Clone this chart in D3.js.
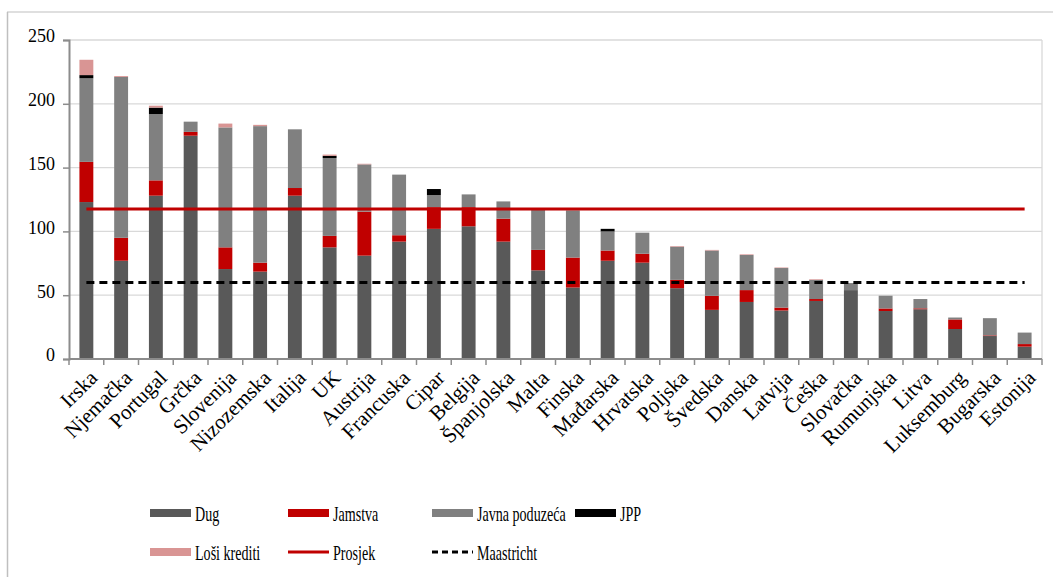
<!DOCTYPE html>
<html>
<head>
<meta charset="utf-8">
<script src="https://cdn.jsdelivr.net/npm/d3@7"></script>
<style>
  body { margin: 0; background: #fff; }
  svg { display: block; }
  text { font-family: "Liberation Serif", "DejaVu Serif", serif; fill: #000; }
</style>
</head>
<body>
<svg id="chart" width="1053" height="577"></svg>
<script>
// zemlje, poredane kao na slici
var countries = ["Irska", "Njemačka", "Portugal", "Grčka", "Slovenija", "Nizozemska", "Italija", "UK",
  "Austrija", "Francuska", "Cipar", "Belgija", "Španjolska", "Malta", "Finska", "Mađarska", "Hrvatska",
  "Poljska", "Švedska", "Danska", "Latvija", "Češka", "Slovačka", "Rumunjska", "Litva", "Luksemburg",
  "Bugarska", "Estonija"];

var dug     = [123, 77, 128, 175, 70.5, 68.5, 128, 87.5, 81, 92, 102, 104, 92, 69.5, 56, 77, 75.5, 55.5, 38.5, 44.7, 38, 45.5, 54, 37.6, 39, 23.5, 18, 9.7];
var jamstva = [31.5, 18, 12, 3, 17, 7, 6, 9, 34.5, 5, 17, 15, 18, 16, 23.5, 8, 7, 6.5, 11, 9.3, 2.3, 1.5, 0, 2, 0.7, 7.5, 0.5, 2];
var javna   = [65.5, 126, 52, 8, 94, 107, 46, 61, 37, 47.5, 9.5, 10, 13.5, 32.5, 37, 15, 16.5, 26, 35.5, 27.5, 31, 15, 5.5, 10, 7.3, 1.5, 13.5, 9];
var jpp     = [2.5, 0, 5, 0, 0, 0, 0, 1.7, 0, 0, 4.7, 0, 0, 0, 0, 2, 0, 0, 0, 0, 0, 0, 0, 0, 0, 0, 0, 0];
var losi    = [12, 0.7, 1.5, 0, 3, 1, 0, 1, 0.5, 0, 0, 0, 0, 0, 0, 0, 0, 0.5, 0.5, 0.5, 0.4, 0.5, 0, 0, 0, 0, 0, 0];

var prosjek = 117.5;
var maastricht = 60;
var yTicks = [0, 50, 100, 150, 200, 250];

var seriesNames = ["Dug", "Jamstva", "Javna poduzeća", "JPP", "Loši krediti"];
var seriesColors = ["#595959", "#c00000", "#808080", "#000000", "#d99594"];
var seriesValues = [dug, jamstva, javna, jpp, losi];

var svg = d3.select("#chart");
var plotLeft = 69, plotRight = 1042, plotTop = 40, plotBottom = 359;

// vanjski okvir
svg.append("line").attr("x1", 7).attr("x2", 1053).attr("y1", 12).attr("y2", 12)
  .attr("stroke", "#bfbfbf").attr("stroke-width", 1);
svg.append("line").attr("x1", 7.5).attr("x2", 7.5).attr("y1", 12).attr("y2", 577)
  .attr("stroke", "#bfbfbf").attr("stroke-width", 1.5);

var x = d3.scaleBand().domain(countries).range([plotLeft, plotRight]).paddingInner(0.6).paddingOuter(0.3);
var y = d3.scaleLinear().domain([0, 250]).range([plotBottom, plotTop]);
var step = x.step();

// mreža
svg.append("g").selectAll("line").data(yTicks.slice(1)).enter().append("line")
  .attr("x1", plotLeft).attr("x2", plotRight)
  .attr("y1", function(d) { return y(d); }).attr("y2", function(d) { return y(d); })
  .attr("stroke", "#d9d9d9").attr("stroke-width", 1.3);
svg.append("line").attr("x1", plotRight).attr("x2", plotRight).attr("y1", plotTop).attr("y2", plotBottom)
  .attr("stroke", "#d9d9d9").attr("stroke-width", 1.3);

// stupci
var table = countries.map(function(c, i) {
  var row = { country: c };
  seriesNames.forEach(function(s, k) { row[s] = seriesValues[k][i]; });
  return row;
});
var stack = d3.stack().keys(seriesNames)(table);

svg.append("g").selectAll("g").data(stack).enter().append("g")
  .attr("fill", function(d, k) { return seriesColors[k]; })
  .selectAll("rect").data(function(d) { return d; }).enter().append("rect")
  .attr("x", function(d) { return x(d.data.country); })
  .attr("width", x.bandwidth())
  .attr("y", function(d) { return y(d[1]); })
  .attr("height", function(d) { return Math.max(0, y(d[0]) - y(d[1])); });

// prosjek i Maastricht
var x0 = x(countries[0]) + x.bandwidth() / 2;
var x1 = x(countries[countries.length - 1]) + x.bandwidth() / 2;
svg.append("line").attr("x1", x0).attr("x2", x1).attr("y1", y(prosjek)).attr("y2", y(prosjek))
  .attr("stroke", "#c00000").attr("stroke-width", 3);
svg.append("line").attr("x1", x0).attr("x2", x1).attr("y1", y(maastricht)).attr("y2", y(maastricht))
  .attr("stroke", "#000").attr("stroke-width", 3).attr("stroke-dasharray", "8,5");

// osi
var yAxis = d3.axisLeft(y).tickValues(yTicks).tickSize(6).tickPadding(8);
var gy = svg.append("g").attr("transform", "translate(" + plotLeft + ",0)").call(yAxis);
gy.select(".domain").attr("stroke", "#8c8c8c").attr("stroke-width", 2);
gy.selectAll(".tick line").attr("stroke", "#8c8c8c").attr("stroke-width", 1.5);
gy.selectAll("text").attr("font-size", 18).attr("font-family", "Liberation Serif").attr("dy", "0.1em");

var gx = svg.append("g");
gx.append("line").attr("x1", plotLeft).attr("x2", plotRight).attr("y1", plotBottom).attr("y2", plotBottom)
  .attr("stroke", "#8c8c8c").attr("stroke-width", 2);
gx.selectAll("line.tk").data(d3.range(countries.length + 1)).enter().append("line")
  .attr("class", "tk")
  .attr("x1", function(i) { return plotLeft + i * step; }).attr("x2", function(i) { return plotLeft + i * step; })
  .attr("y1", plotBottom).attr("y2", plotBottom + 6)
  .attr("stroke", "#8c8c8c").attr("stroke-width", 1.5);
gx.selectAll("text").data(countries).enter().append("text")
  .attr("transform", function(d) {
    return "translate(" + (x(d) + x.bandwidth() / 2 + 1) + "," + (plotBottom + 9) + ") rotate(-45)";
  })
  .attr("text-anchor", "end").attr("dy", "0.75em")
  .attr("font-size", 21)
  .text(function(d) { return d; });

// legenda
var legendItems = [
  { name: "Dug", kind: "rect", color: seriesColors[0], x: 150, y: 513 },
  { name: "Jamstva", kind: "rect", color: seriesColors[1], x: 288, y: 513 },
  { name: "Javna poduzeća", kind: "rect", color: seriesColors[2], x: 432, y: 513 },
  { name: "JPP", kind: "rect", color: seriesColors[3], x: 575, y: 513 },
  { name: "Loši krediti", kind: "rect", color: seriesColors[4], x: 150, y: 552 },
  { name: "Prosjek", kind: "line", color: "#c00000", x: 288, y: 552 },
  { name: "Maastricht", kind: "dash", color: "#000", x: 432, y: 552 }
];
var lg = svg.append("g").selectAll("g").data(legendItems).enter().append("g")
  .attr("transform", function(d) { return "translate(" + d.x + "," + d.y + ")"; });
lg.filter(function(d) { return d.kind === "rect"; }).append("rect")
  .attr("x", 0).attr("y", -4).attr("width", 41).attr("height", 8)
  .attr("fill", function(d) { return d.color; });
lg.filter(function(d) { return d.kind !== "rect"; }).append("line")
  .attr("x1", 0).attr("x2", 41).attr("y1", 0).attr("y2", 0)
  .attr("stroke", function(d) { return d.color; }).attr("stroke-width", 3)
  .attr("stroke-dasharray", function(d) { return d.kind === "dash" ? "6,4" : null; });
lg.append("text").attr("transform", "translate(45,0) scale(0.64,1)").attr("dy", "0.35em")
  .attr("font-size", 22)
  .text(function(d) { return d.name; });
</script>
</body>
</html>
